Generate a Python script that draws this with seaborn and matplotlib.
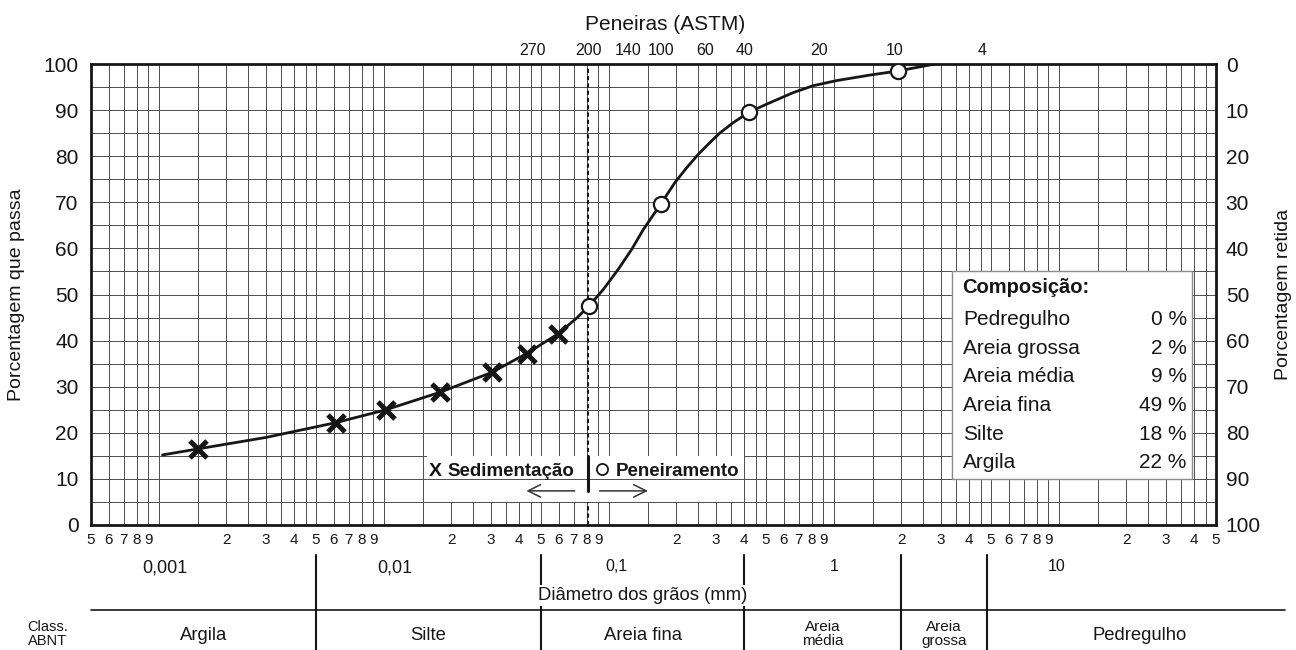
import matplotlib
matplotlib.use("Agg")
import numpy as np
import matplotlib.pyplot as plt
from matplotlib.patches import Rectangle
from matplotlib.ticker import NullLocator
import seaborn as sns

sns.set_theme(style="white")
plt.rcParams['font.family'] = ['Liberation Sans', 'DejaVu Sans']

# ------------------------------------------------------------
# data (diameter in mm, % passing)
# ------------------------------------------------------------
curve_d = [0.00104, 0.00149, 0.003, 0.00612, 0.01024, 0.0178, 0.0302, 0.0432,
           0.0597, 0.0721, 0.082, 0.0946, 0.110, 0.1265, 0.1425, 0.1707, 0.197,
           0.222, 0.250, 0.282, 0.313, 0.358, 0.422, 0.504, 0.661, 0.811, 1.03,
           1.449, 1.936, 2.82]
curve_pct = [15.2, 16.5, 19.0, 22.2, 25.0, 28.8, 33.1, 37.2, 41.5, 44.9, 47.6,
             51.1, 55.4, 59.8, 64.1, 69.7, 74.3, 77.5, 80.4, 83.0, 85.1, 87.3,
             89.6, 91.3, 93.8, 95.3, 96.4, 97.6, 98.5, 100.0]

# sedimentation readings (X) and sieve readings (O)
sed_d = [0.00149, 0.00612, 0.01024, 0.0178, 0.0302, 0.0432, 0.0597]
sed_pct = [16.5, 22.2, 25.0, 28.8, 33.1, 37.2, 41.5]
sieve_d = [0.082, 0.1707, 0.422, 1.936]
sieve_pct = [47.6, 69.7, 89.6, 98.5]

# ASTM sieves on the top axis
sieve_names = ['270', '200', '140', '100', '60', '40', '20', '10', '4']
sieve_pos = [0.046, 0.081, 0.122, 0.17, 0.268, 0.403, 0.86, 1.87, 4.55]

# ABNT classes along the bottom
class_names = ['Argila', 'Silte', 'Areia fina', 'Areia\nmédia', 'Areia\ngrossa', 'Pedregulho']
class_edges = [0.0005, 0.005, 0.05, 0.4, 2.0, 4.8, 110]

comp_labels = ['Pedregulho', 'Areia grossa', 'Areia média', 'Areia fina', 'Silte', 'Argila']
comp_values = [0, 2, 9, 49, 18, 22]

decade_labels = ['0,001', '0,01', '0,1', '1', '10']
decade_pos = [0.00107, 0.0112, 0.108, 1.0, 9.8]

# grid lines of the log paper
steps = [1, 1.5, 2, 2.5, 3, 3.5, 4, 4.5, 5, 6, 7, 8, 9]
grid_x, grid_lbl = [], []
for e in range(-4, 2):
    for k in steps:
        v = k * 10.0 ** e
        if 0.00049 <= v <= 50.1:
            grid_x.append(v)
            grid_lbl.append(str(int(k)) if k >= 2 and k == int(k) else '')

INK = '#161616'
GRID = '#4d4d4d'

fig = plt.figure(figsize=(12.96, 6.5), dpi=100)
ax = fig.add_axes([91 / 1296, 125 / 650, 1125 / 1296, 461 / 650])

ax.set_xscale('log')
ax.set_xlim(0.0005, 50)
ax.set_ylim(0, 100)
ax.set_xticks(grid_x, labels=grid_lbl)
ax.xaxis.set_minor_locator(NullLocator())
ax.set_yticks(range(0, 101, 10))
ax.set_yticks(range(5, 100, 10), minor=True)
ax.grid(True, axis='x', which='major', color=GRID, lw=0.7)
ax.grid(True, axis='y', which='both', color=GRID, lw=0.7)
ax.set_axisbelow(True)
ax.tick_params(which='both', length=0)
ax.tick_params(axis='x', labelsize=11, pad=6, labelcolor=INK)
ax.tick_params(axis='y', labelsize=15, pad=9, labelcolor=INK)
for s in ax.spines.values():
    s.set_linewidth(2.0)
    s.set_color(INK)

ax.set_ylabel('Porcentagem que passa', fontsize=14, labelpad=13, color=INK)

# sieve 200 divider
ax.axvline(sieve_pos[1], color=INK, lw=1.5, ls=(0, (2, 1.5)), zorder=1.5)

# legend strip
ax.add_patch(Rectangle((0.2987, 0.05), 0.2817, 0.10, transform=ax.transAxes,
                       fc='white', ec='none', zorder=2))
ax.axhline(10, xmin=0.2987, xmax=0.5804, color=GRID, lw=0.7, zorder=2.1)
ax.text(0.306, 0.107, 'X', transform=ax.transAxes, ha='center', va='baseline',
        fontsize=14, fontweight='bold', color=INK, zorder=3)
ax.text(0.430, 0.107, 'Sedimentação', transform=ax.transAxes, ha='right', va='baseline',
        fontsize=13.5, fontweight='bold', color=INK, zorder=3)
ax.plot([0.442, 0.442], [0.074, 0.149], transform=ax.transAxes, color=INK, lw=2.2, zorder=3)
ax.plot([0.4545], [0.122], 'o', ms=8, mfc='white', mec=INK, mew=1.3,
        transform=ax.transAxes, zorder=3)
ax.text(0.4665, 0.107, 'Peneiramento', transform=ax.transAxes, ha='left', va='baseline',
        fontsize=13.5, fontweight='bold', color=INK, zorder=3)
arrow = dict(arrowstyle='->, head_length=0.9, head_width=0.45', color='#333333',
             lw=1.1, mutation_scale=10, shrinkA=0, shrinkB=0)
ax.annotate('', xy=(0.387, 0.074), xytext=(0.430, 0.074), xycoords='axes fraction',
            arrowprops=arrow, zorder=3)
ax.annotate('', xy=(0.495, 0.074), xytext=(0.452, 0.074), xycoords='axes fraction',
            arrowprops=arrow, zorder=3)

# composition box
ax.add_patch(Rectangle((0.765, 0.10), 0.214, 0.45, transform=ax.transAxes,
                       fc='white', ec='#8c8c8c', lw=1.0, zorder=2))
ax.text(0.7745, 0.504, 'Composição:', transform=ax.transAxes, ha='left', va='baseline',
        fontsize=14.5, fontweight='bold', color=INK, zorder=3)
for i, (lab, val) in enumerate(zip(comp_labels, comp_values)):
    yb = 0.4333 - i * 0.0620
    ax.text(0.7754, yb, lab, transform=ax.transAxes, ha='left', va='baseline',
            fontsize=15, color=INK, zorder=3)
    ax.text(0.9739, yb, f'{val} %', transform=ax.transAxes, ha='right', va='baseline',
            fontsize=15, color=INK, zorder=3)

# grain size curve and readings
sns.lineplot(x=curve_d, y=curve_pct, ax=ax, color=INK, lw=2.0, sort=False, zorder=4)
sns.scatterplot(x=sed_d, y=sed_pct, ax=ax, marker='x', s=150, color=INK,
                linewidth=3.6, zorder=5)
sns.scatterplot(x=sieve_d, y=sieve_pct, ax=ax, marker='o', s=120, color='white',
                edgecolor=INK, linewidth=1.6, zorder=5)

# top axis: ASTM sieves
top = ax.secondary_xaxis('top')
top.set_xticks(sieve_pos, labels=sieve_names)
top.xaxis.set_minor_locator(NullLocator())
top.tick_params(length=0, pad=4, labelsize=11.5, labelcolor=INK)
for s in top.spines.values():
    s.set_visible(False)
ax.text(0.5102, 1.0738, 'Peneiras (ASTM)', transform=ax.transAxes, ha='center',
        va='baseline', fontsize=15, color=INK)

# right axis: percent retained
right = ax.secondary_yaxis('right', functions=(lambda v: 100 - v, lambda v: 100 - v))
right.set_yticks(range(0, 101, 10))
right.tick_params(length=0, pad=7, labelsize=15, labelcolor=INK)
for s in right.spines.values():
    s.set_visible(False)
right.set_ylabel('Porcentagem retida', fontsize=14, labelpad=10, color=INK)

# bottom block: decades, diameter label, ABNT classes
xt = ax.get_xaxis_transform()
for lab, pos in zip(decade_labels, decade_pos):
    big = len(lab) > 3
    ax.text(pos, -0.074, lab, transform=xt, ha='center', va='top',
            fontsize=13 if big else 11.5, color=INK)

for edge in class_edges[1:-1]:
    ax.plot([edge, edge], [-0.065, -0.30], transform=xt, color=INK, lw=1.5, clip_on=False)
ax.plot([0, 1.0613], [-0.1848, -0.1848], transform=ax.transAxes, color=INK, lw=1.2,
        clip_on=False)

ax.text(0.49, -0.163, 'Diâmetro dos grãos (mm)', transform=ax.transAxes, ha='center',
        va='baseline', fontsize=13.3, color=INK,
        bbox=dict(fc='white', ec='none', pad=1.5), zorder=6)

for i, name in enumerate(class_names):
    xc = np.sqrt(class_edges[i] * class_edges[i + 1])
    if '\n' in name:
        ax.text(xc, -0.237, name, transform=xt, ha='center', va='center',
                fontsize=11, linespacing=1.0, color=INK)
    else:
        ax.text(xc, -0.2485, name, transform=xt, ha='center', va='baseline',
                fontsize=13.3, color=INK)

ax.text(-0.0387, -0.236, 'Class.\nABNT', transform=ax.transAxes, ha='center', va='center',
        fontsize=10.5, linespacing=1.0, color=INK)

fig.savefig('out.png', dpi=100)
